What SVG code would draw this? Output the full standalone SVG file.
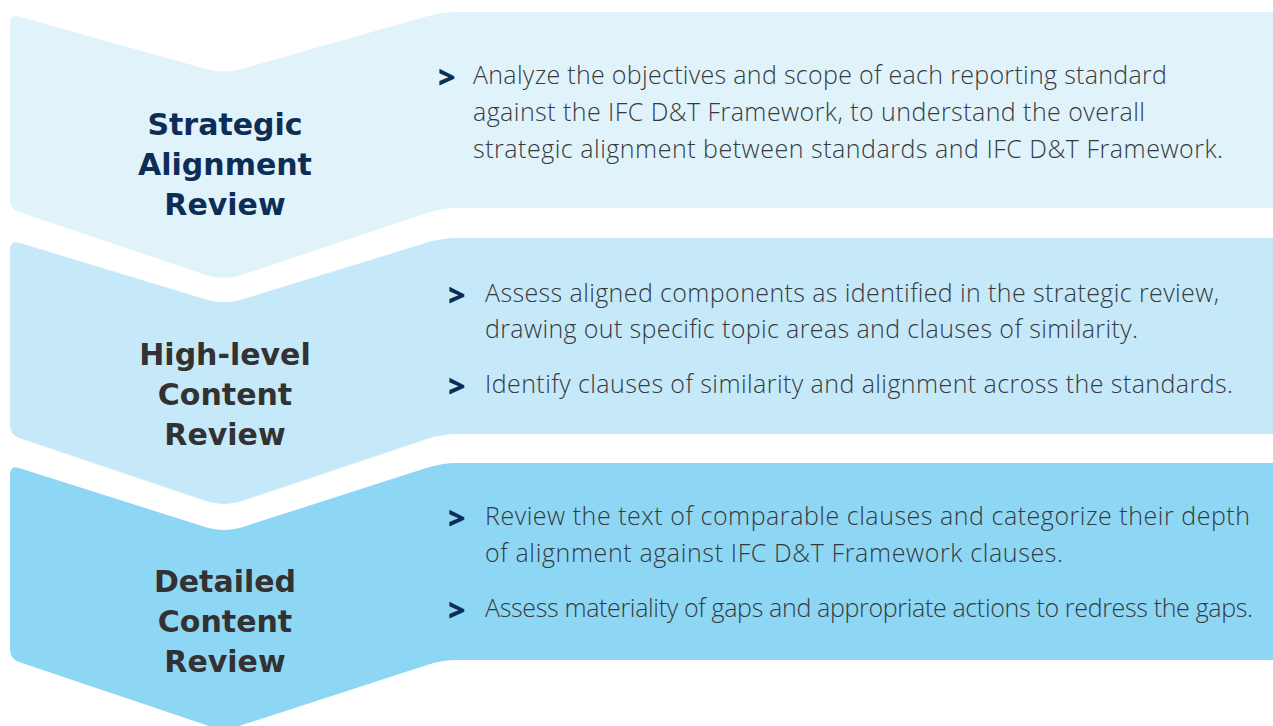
<svg xmlns="http://www.w3.org/2000/svg" width="1273" height="726" viewBox="0 0 1273 726">
  <style>
    .title { font-family: "DejaVu Sans", "Liberation Sans", sans-serif; font-weight: bold; font-size: 30px; text-anchor: middle; }
    .navy { fill: #0c2e56; }
    .dark { fill: #333132; }
    .body { font-family: "Open Sans", "Liberation Sans", sans-serif; font-weight: 300; font-size: 25px; fill: #373a3d; }
    .bullet { font-family: "Open Sans", "Liberation Sans", sans-serif; font-weight: 800; font-size: 30px; fill: #0c2e56; }
  </style>
  <rect width="1273" height="726" fill="#ffffff"/>

  <!-- Stage 1 -->
  <g id="strategic-alignment">
    <path fill="#e0f3fb" d="M10,24 Q10,14 19,16.5 L206,69 Q224,74 242,68.9 L427,16.3 Q442,12 457,12 L1280,12 L1280,208 L457,208 Q442,208 427,213 L242,275 Q224,281 206,274.9 L19,212 Q10,209 10,199 Z"/>
    <text class="title navy" x="225" y="135">Strategic</text>
    <text class="title navy" x="225" y="175">Alignment</text>
    <text class="title navy" x="225" y="215">Review</text>
    <text class="bullet" x="438" y="88">&gt;</text>
    <text class="body" x="473" y="84" textLength="694">Analyze the objectives and scope of each reporting standard</text>
    <text class="body" x="473" y="121" textLength="672">against the IFC D&amp;T Framework, to understand the overall</text>
    <text class="body" x="473" y="158" textLength="750">strategic alignment between standards and IFC D&amp;T Framework.</text>
  </g>

  <!-- Stage 2 -->
  <g id="high-level-content">
    <path fill="#c5e9f8" d="M10,250 Q10,240 19,242.7 L206,299.5 Q224,305 242,299.5 L427,242.6 Q442,238 457,238 L1280,238 L1280,434 L457,434 Q442,434 427,439 L242,501 Q224,507 206,500.9 L19,438 Q10,435 10,425 Z"/>
    <text class="title dark" x="225" y="365">High-level</text>
    <text class="title dark" x="225" y="405">Content</text>
    <text class="title dark" x="225" y="445">Review</text>
    <text class="bullet" x="448" y="306">&gt;</text>
    <text class="body" x="485" y="302" textLength="734">Assess aligned components as identified in the strategic review,</text>
    <text class="body" x="485" y="338" textLength="653">drawing out specific topic areas and clauses of similarity.</text>
    <text class="bullet" x="448" y="397">&gt;</text>
    <text class="body" x="485" y="393" textLength="748">Identify clauses of similarity and alignment across the standards.</text>
  </g>

  <!-- Stage 3 -->
  <g id="detailed-content">
    <path fill="#8dd7f5" d="M10,475 Q10,465 19,467.9 L206,527.3 Q224,533 242,527.2 L427,467.8 Q442,463 457,463 L1280,463 L1280,660 L457,660 Q442,660 427,664.9 L242,725.1 Q224,731 206,724.9 L19,662 Q10,659 10,649 Z"/>
    <text class="title dark" x="225" y="592">Detailed</text>
    <text class="title dark" x="225" y="632">Content</text>
    <text class="title dark" x="225" y="672">Review</text>
    <text class="bullet" x="448" y="529">&gt;</text>
    <text class="body" x="485" y="525" textLength="765">Review the text of comparable clauses and categorize their depth</text>
    <text class="body" x="485" y="562" textLength="578">of alignment against IFC D&amp;T Framework clauses.</text>
    <text class="bullet" x="448" y="621">&gt;</text>
    <text class="body" x="485" y="617" textLength="768">Assess materiality of gaps and appropriate actions to redress the gaps.</text>
  </g>

  <!-- no connectors: stages are stacked chevrons -->
  <g id="connectors"/>
</svg>
